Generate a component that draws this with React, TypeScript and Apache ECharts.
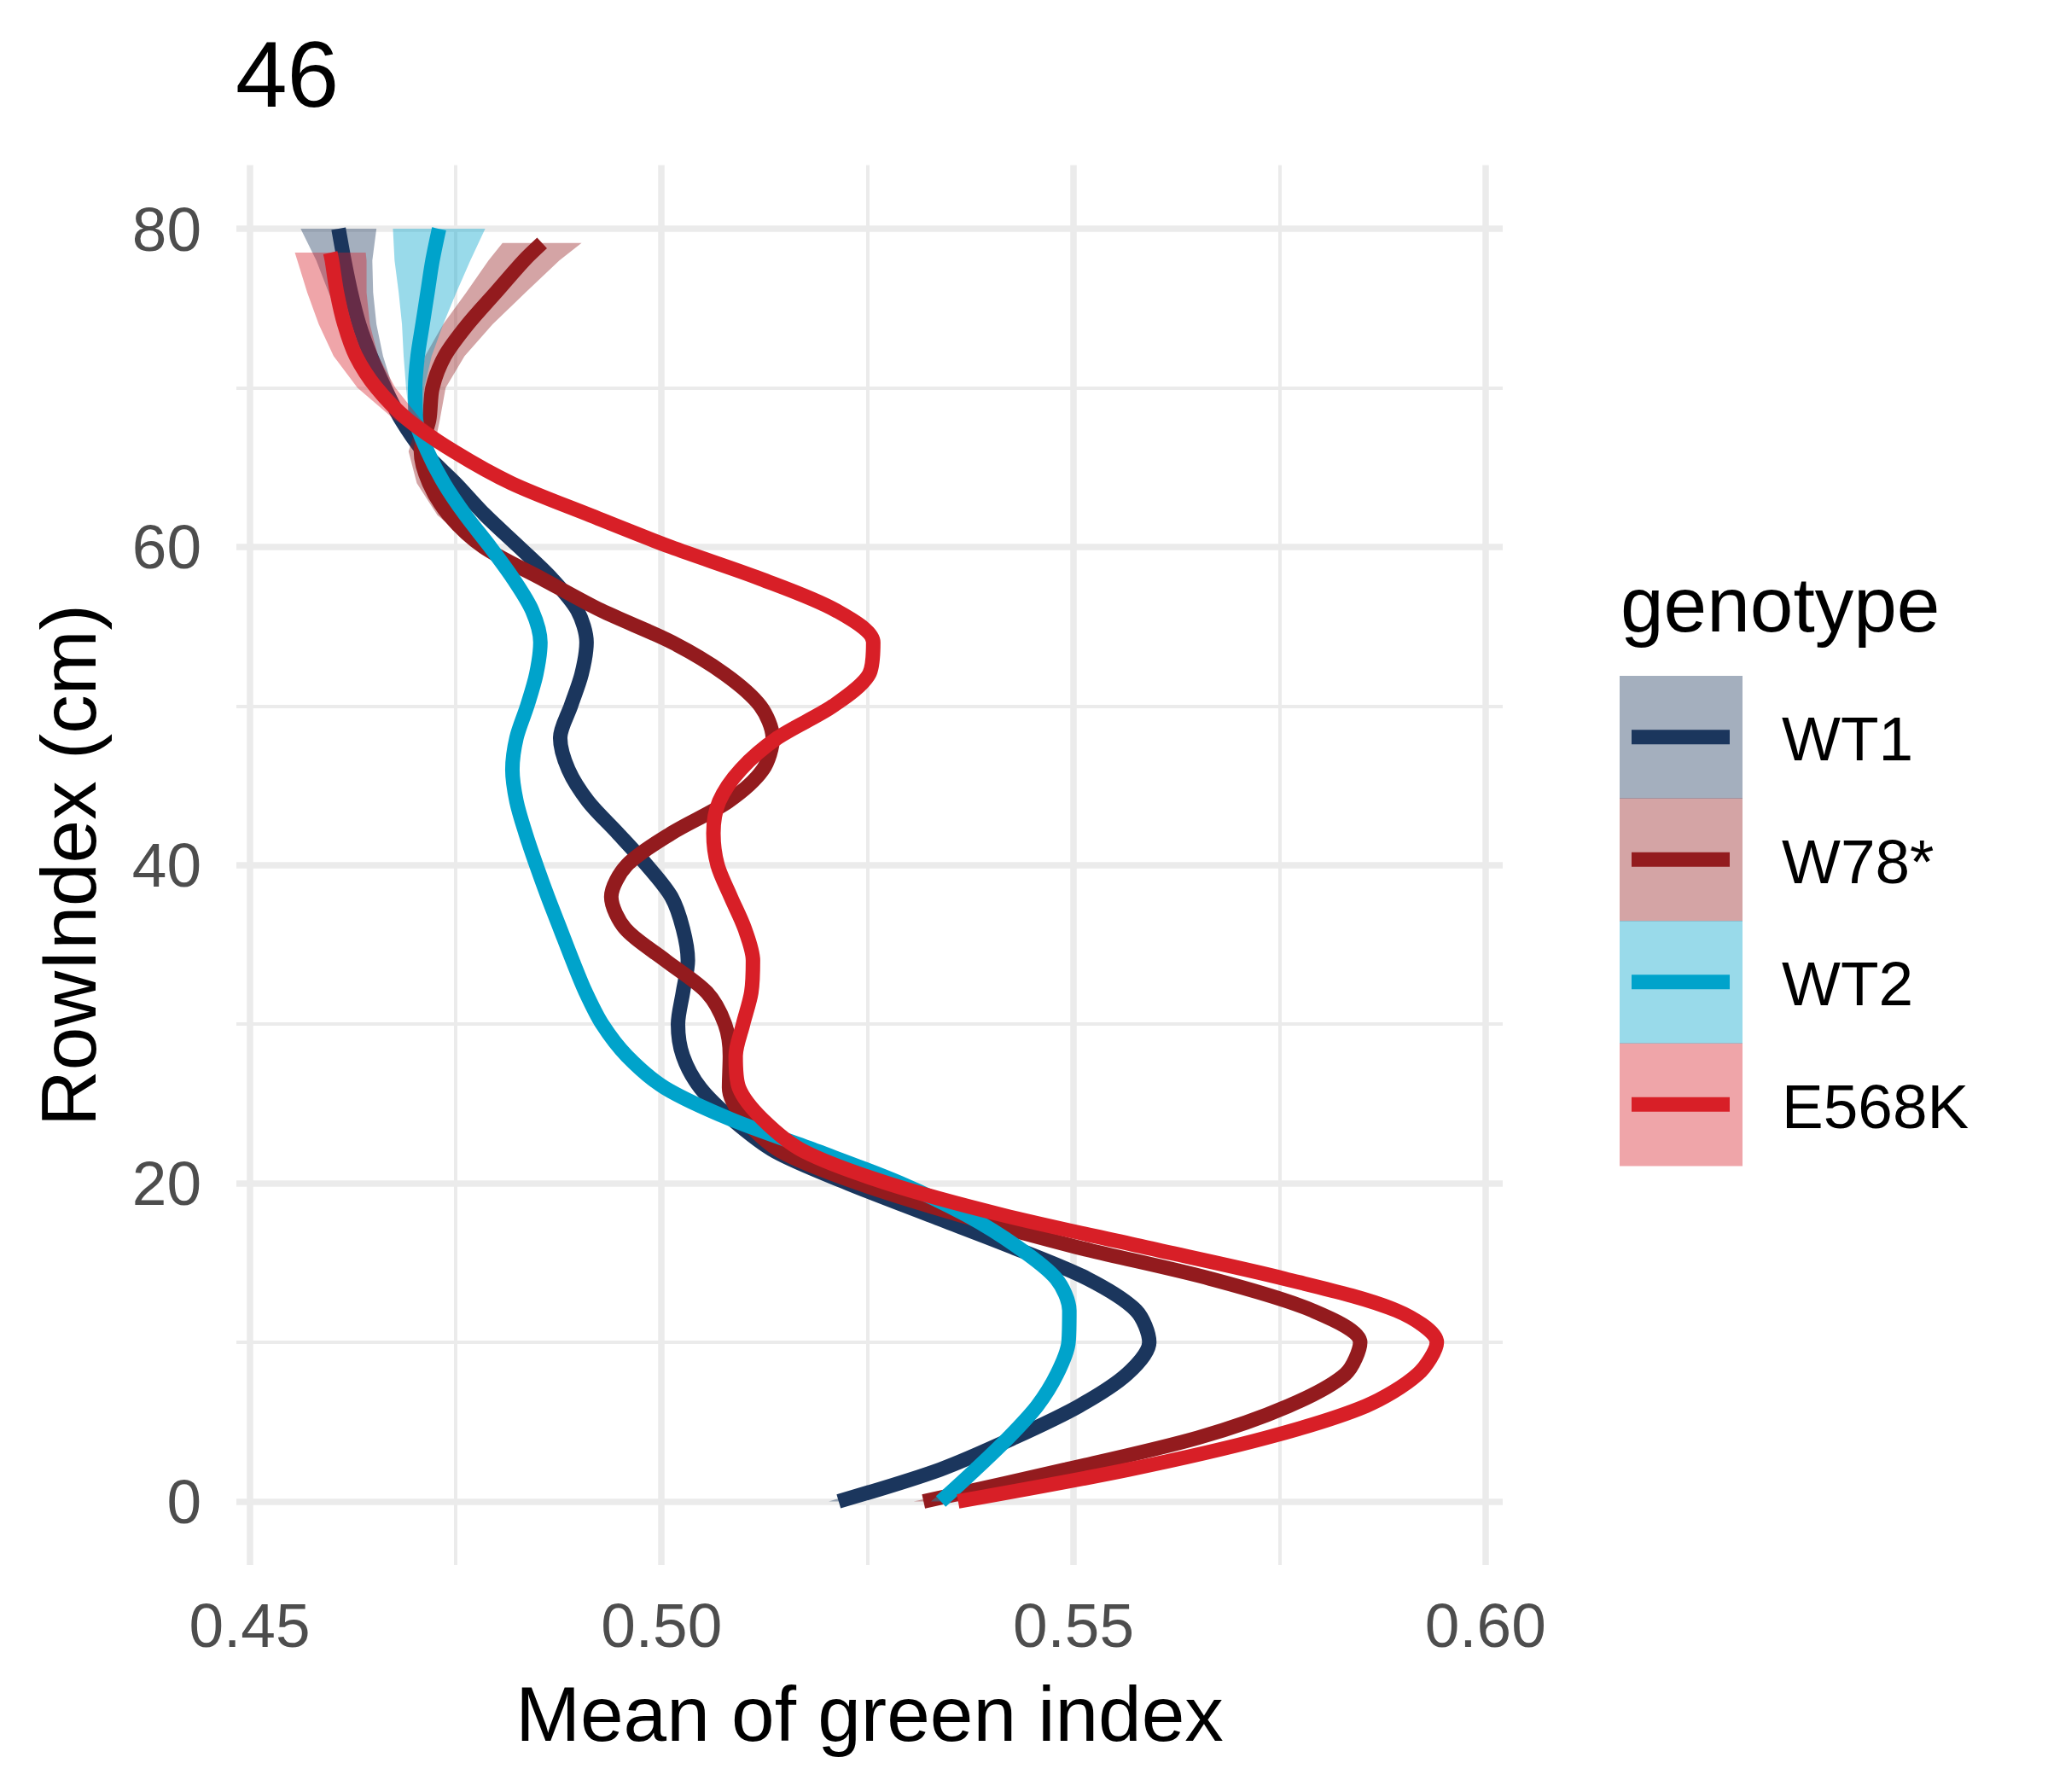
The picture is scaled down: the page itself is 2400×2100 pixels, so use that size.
import React, { useEffect, useRef } from "react";
import * as echarts from "echarts";

// ---------- data ----------
const GENOTYPES = ["WT1", "W78*", "WT2", "E568K"];
const COLORS = ["#1B365D", "#931B1E", "#00A3CB", "#D81F27"];

const X_TICKS = [0.45, 0.5, 0.55, 0.6];
const X_MINOR = [0.475, 0.525, 0.575];
const Y_TICKS = [0, 20, 40, 60, 80];
const Y_MINOR = [10, 30, 50, 70];
const X_RANGE = [0.4484, 0.6021];
const Y_RANGE = [-4, 84];

// RowIndex (cm) positions of the smoothed curves
const WT1_Y = [0, 2, 4, 6, 8, 10, 12, 14, 16, 18, 20, 22, 24, 26, 28, 30, 32, 34, 36, 38, 40, 42, 44, 46, 48, 50, 52, 54, 56, 58, 60, 62, 64, 66, 68, 70, 72, 74, 76, 78, 80];
const WT1_X = [0.5215, 0.5338, 0.5428, 0.5507, 0.5565, 0.5592, 0.5576, 0.5517, 0.5425, 0.5325, 0.5226, 0.5138, 0.5086, 0.5047, 0.5026, 0.502, 0.5026, 0.5032, 0.5026, 0.5012, 0.4982, 0.4947, 0.4911, 0.4887, 0.4877, 0.489, 0.4903, 0.4909, 0.4898, 0.4867, 0.4827, 0.4786, 0.475, 0.4711, 0.4684, 0.4664, 0.4647, 0.4633, 0.4623, 0.4615, 0.4608];
const WT1_SE = [0.0012, 0.0008, 0.0005, 0.0005, 0.0005, 0.0005, 0.0005, 0.0005, 0.0005, 0.0005, 0.0005, 0.0005, 0.0005, 0.0005, 0.0005, 0.0005, 0.0005, 0.0005, 0.0005, 0.0005, 0.0005, 0.0005, 0.0005, 0.0005, 0.0005, 0.0005, 0.0005, 0.0005, 0.0005, 0.0005, 0.0005, 0.0005, 0.0005, 0.0006, 0.0007, 0.001, 0.0015, 0.0021, 0.0027, 0.0034, 0.0046];

const W78_Y = [0, 2, 4, 6, 8, 10, 12, 14, 16, 18, 20, 22, 24, 26, 28, 30, 32, 34, 36, 38, 40, 42, 44, 46, 48, 50, 52, 54, 56, 58, 60, 62, 64, 66, 68, 70, 72, 74, 76, 78, 79.1];
const W78_X = [0.5318, 0.5491, 0.5651, 0.5761, 0.583, 0.5848, 0.579, 0.5666, 0.5503, 0.5362, 0.5239, 0.5145, 0.5101, 0.5082, 0.5083, 0.5077, 0.5055, 0.5005, 0.4956, 0.4939, 0.4958, 0.5012, 0.5081, 0.5123, 0.5135, 0.512, 0.5077, 0.5013, 0.4927, 0.4855, 0.4784, 0.4742, 0.4718, 0.4708, 0.4718, 0.4722, 0.4737, 0.4765, 0.4799, 0.4833, 0.4855];
const W78_SE = [0.0012, 0.0008, 0.0005, 0.0005, 0.0005, 0.0005, 0.0005, 0.0005, 0.0005, 0.0005, 0.0005, 0.0005, 0.0005, 0.0005, 0.0005, 0.0005, 0.0005, 0.0005, 0.0005, 0.0005, 0.0005, 0.0005, 0.0005, 0.0005, 0.0005, 0.0005, 0.0005, 0.0005, 0.0005, 0.0007, 0.001, 0.0014, 0.0015, 0.0015, 0.0013, 0.0016, 0.0024, 0.003, 0.0036, 0.0043, 0.0048];

const WT2_Y = [0, 2, 4, 6, 8, 10, 12, 14, 16, 18, 20, 22, 24, 26, 28, 30, 32, 34, 36, 38, 40, 42, 44, 46, 48, 50, 52, 54, 56, 58, 60, 62, 64, 66, 68, 70, 72, 74, 76, 78, 80];
const WT2_X = [0.5339, 0.5381, 0.5421, 0.5456, 0.548, 0.5494, 0.5495, 0.5479, 0.5432, 0.537, 0.529, 0.519, 0.5085, 0.5004, 0.4958, 0.4928, 0.4908, 0.4892, 0.4877, 0.4862, 0.4848, 0.4835, 0.4824, 0.4819, 0.4824, 0.4837, 0.4848, 0.4853, 0.4843, 0.482, 0.4792, 0.4762, 0.4736, 0.4716, 0.4702, 0.4701, 0.4704, 0.471, 0.4716, 0.4722, 0.473];
const WT2_SE = [0.0012, 0.0008, 0.0005, 0.0005, 0.0005, 0.0005, 0.0005, 0.0005, 0.0005, 0.0005, 0.0005, 0.0005, 0.0005, 0.0005, 0.0005, 0.0005, 0.0005, 0.0005, 0.0005, 0.0005, 0.0005, 0.0005, 0.0005, 0.0005, 0.0005, 0.0005, 0.0005, 0.0005, 0.0005, 0.0005, 0.0005, 0.0005, 0.0005, 0.0006, 0.0008, 0.0011, 0.0017, 0.0025, 0.0035, 0.0046, 0.0056];

const E568K_Y = [0, 2, 4, 6, 8, 10, 12, 14, 16, 18, 20, 22, 24, 26, 28, 30, 32, 34, 36, 38, 40, 42, 44, 46, 48, 50, 52, 54, 56, 58, 60, 62, 64, 66, 68, 70, 72, 74, 76, 78, 78.5];
const E568K_X = [0.536, 0.5567, 0.5734, 0.5855, 0.5918, 0.5941, 0.5892, 0.5756, 0.5585, 0.5414, 0.5274, 0.5173, 0.5123, 0.5094, 0.509, 0.5099, 0.5109, 0.5111, 0.5101, 0.5084, 0.5068, 0.5063, 0.507, 0.5096, 0.5141, 0.5208, 0.5252, 0.5257, 0.5212, 0.512, 0.5011, 0.4913, 0.4818, 0.4748, 0.4692, 0.4654, 0.4629, 0.4615, 0.4606, 0.46, 0.4598];
const E568K_SE = [0.0012, 0.0008, 0.0005, 0.0005, 0.0005, 0.0005, 0.0005, 0.0005, 0.0005, 0.0005, 0.0005, 0.0005, 0.0005, 0.0005, 0.0005, 0.0005, 0.0005, 0.0005, 0.0005, 0.0005, 0.0005, 0.0005, 0.0005, 0.0005, 0.0005, 0.0005, 0.0005, 0.0005, 0.0005, 0.0005, 0.0005, 0.0005, 0.0007, 0.001, 0.0016, 0.0023, 0.0027, 0.0031, 0.0036, 0.0042, 0.0043];

const SERIES_Y = [WT1_Y, W78_Y, WT2_Y, E568K_Y];
const SERIES_X = [WT1_X, W78_X, WT2_X, E568K_X];
const SERIES_SE = [WT1_SE, W78_SE, WT2_SE, E568K_SE];

const TITLE = "46";
const X_NAME = "Mean of green index";
const Y_NAME = "RowIndex (cm)";
const LEGEND_TITLE = "genotype";

// ---------- layout ----------
const FONT = "'Liberation Sans', Arial, Helvetica, sans-serif";
const W = 2400;
const H = 2100;
const GRID = { left: 277, right: 639, top: 193.5, bottom: 266 };

function buildOption() {
  const series: any[] = [];
  GENOTYPES.forEach((name, i) => {
    const ys = SERIES_Y[i];
    const xs = SERIES_X[i];
    const se = SERIES_SE[i];
    const lower = ys.map((y, k) => [xs[k] - se[k], y]);
    const upper = ys.map((y, k) => [xs[k] + se[k], y]).reverse();
    const ribbon = lower.concat(upper);
    series.push({
      type: "custom",
      name: name + " band",
      xAxisIndex: 0,
      yAxisIndex: 0,
      z: 10 + 2 * i,
      silent: true,
      encode: { x: 0, y: 1 },
      data: ribbon,
      renderItem: (params: any, api: any) => {
        if (params.dataIndex !== 0) return null;
        const pts = ribbon.map((p) => api.coord(p));
        return {
          type: "polygon",
          shape: { points: pts },
          style: { fill: COLORS[i], opacity: 0.4, stroke: "none" },
        };
      },
    });
    series.push({
      type: "line",
      name,
      xAxisIndex: 0,
      yAxisIndex: 0,
      z: 11 + 2 * i,
      silent: true,
      showSymbol: false,
      symbol: "none",
      smooth: 0.3,
      data: ys.map((y, k) => [xs[k], y]),
      lineStyle: { color: COLORS[i], width: 17, cap: "butt" },
    });
  });

  const keyX = 1898;
  const keyW = 144;
  const keyTop = 792;
  const keyH = 143.5;
  const graphics: any[] = [
    {
      type: "text",
      x: 276,
      y: 87,
      style: { text: TITLE, fill: "#000", fontSize: 109, fontFamily: FONT, align: "left", verticalAlign: "middle", textAlign: "left", textVerticalAlign: "middle" },
    },
    {
      type: "text",
      x: 1019,
      y: 2008,
      style: { text: X_NAME, fill: "#000", fontSize: 91, fontFamily: FONT, align: "center", verticalAlign: "middle", textAlign: "center", textVerticalAlign: "middle" },
    },
    {
      type: "text",
      x: 80,
      y: 1014,
      rotation: Math.PI / 2,
      style: { text: Y_NAME, fill: "#000", fontSize: 91, fontFamily: FONT, align: "center", verticalAlign: "middle", textAlign: "center", textVerticalAlign: "middle" },
    },
    {
      type: "text",
      x: 1899,
      y: 708,
      style: { text: LEGEND_TITLE, fill: "#000", fontSize: 91, fontFamily: FONT, align: "left", verticalAlign: "middle", textAlign: "left", textVerticalAlign: "middle" },
    },
  ];
  GENOTYPES.forEach((name, i) => {
    const top = keyTop + i * keyH;
    const cy = top + keyH / 2;
    graphics.push({
      type: "rect",
      shape: { x: keyX, y: top, width: keyW, height: keyH + 0.5 },
      style: { fill: COLORS[i], opacity: 0.4 },
    });
    graphics.push({
      type: "line",
      shape: { x1: 1912, y1: cy, x2: 2027, y2: cy },
      style: { stroke: COLORS[i], lineWidth: 17 },
    });
    graphics.push({
      type: "text",
      x: 2088,
      y: cy + 2,
      style: { text: name, fill: "#000", fontSize: 73, fontFamily: FONT, align: "left", verticalAlign: "middle", textAlign: "left", textVerticalAlign: "middle" },
    });
  });

  const majorLine = { show: true, lineStyle: { color: "#EBEBEB", width: 7.5 } };
  const minorLine = { show: true, lineStyle: { color: "#EBEBEB", width: 4 } };
  const tickLabel = { fontSize: 73, color: "#4D4D4D", fontFamily: FONT };

  return {
    animation: false,
    backgroundColor: "#ffffff",
    textStyle: { fontFamily: FONT },
    grid: { ...GRID, containLabel: false },
    xAxis: [
      {
        type: "value",
        min: X_RANGE[0],
        max: X_RANGE[1],
        position: "bottom",
        axisLine: { show: false },
        axisTick: { show: false, customValues: X_TICKS },
        axisLabel: { ...tickLabel, customValues: X_TICKS, margin: 34, formatter: (v: number) => v.toFixed(2) },
        splitLine: majorLine,
      },
      {
        type: "value",
        min: X_RANGE[0],
        max: X_RANGE[1],
        position: "top",
        axisLine: { show: false },
        axisTick: { show: false, customValues: X_MINOR },
        axisLabel: { show: false, customValues: X_MINOR },
        splitLine: minorLine,
      },
    ],
    yAxis: [
      {
        type: "value",
        min: Y_RANGE[0],
        max: Y_RANGE[1],
        position: "left",
        axisLine: { show: false },
        axisTick: { show: false, customValues: Y_TICKS },
        axisLabel: { ...tickLabel, customValues: Y_TICKS, margin: 41, formatter: (v: number) => String(v) },
        splitLine: majorLine,
      },
      {
        type: "value",
        min: Y_RANGE[0],
        max: Y_RANGE[1],
        position: "right",
        axisLine: { show: false },
        axisTick: { show: false, customValues: Y_MINOR },
        axisLabel: { show: false, customValues: Y_MINOR },
        splitLine: minorLine,
      },
    ],
    graphic: graphics,
    series,
  };
}

export default function App() {
  const ref = useRef<HTMLDivElement>(null);
  useEffect(() => {
    if (!ref.current) return;
    const chart = echarts.init(ref.current, null, { renderer: "svg", width: W, height: H });
    chart.setOption(buildOption() as any);
    return () => chart.dispose();
  }, []);
  return (
    <div
      ref={ref}
      style={{ position: "fixed", left: 0, top: 0, width: W, height: H, background: "#ffffff" }}
    />
  );
}
